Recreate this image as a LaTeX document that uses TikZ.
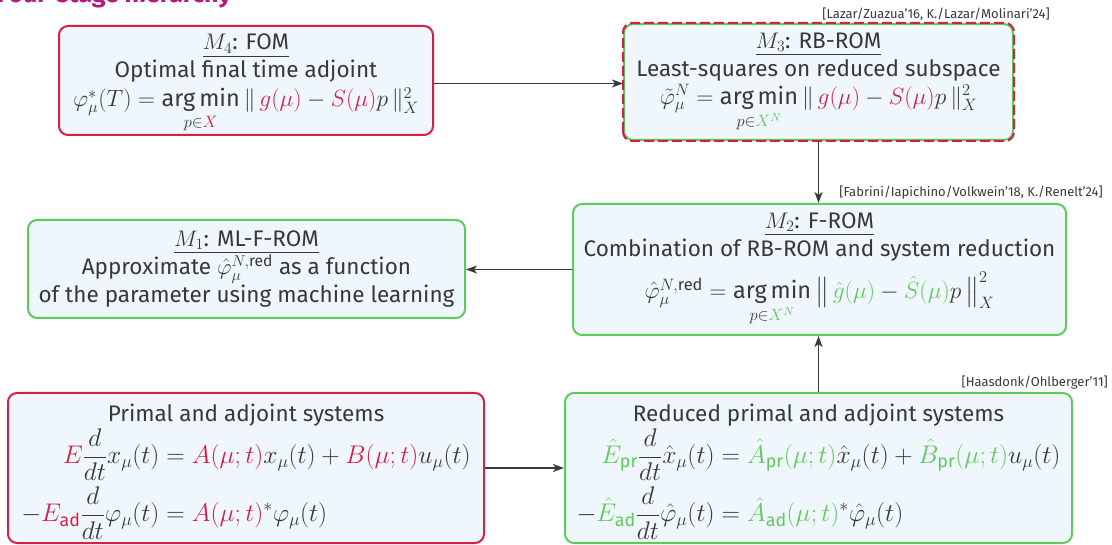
\RequirePackage{fix-cm}
\documentclass[tikz,border=0pt]{standalone}
\usepackage{amsmath}
\usepackage{fontspec}
\setmainfont{Fira Sans}
\usetikzlibrary{arrows.meta}
\definecolor{myred}{HTML}{D42045}
\definecolor{mygreen}{HTML}{5FC95C}
\definecolor{boxfill}{HTML}{EFF7FC}
\definecolor{txt}{HTML}{383838}
\definecolor{arr}{HTML}{3A3A3A}
\definecolor{ttl}{HTML}{B8167F}
\newcommand{\rc}[1]{\textcolor{myred}{#1}}
\newcommand{\gc}[1]{\textcolor{mygreen}{#1}}
\newcommand{\argmin}{\mathop{\text{arg\,min}}\limits}
\newcommand{\mline}[1]{{\fontsize{23.5}{28}\selectfont$#1$}}
\newcommand{\eline}[1]{{\fontsize{25.5}{30}\selectfont$#1$}}
\begin{document}
\begin{tikzpicture}[x=1pt,y=-1pt,
  box/.style={draw, line width=2pt, rounded corners=9pt, fill=boxfill, inner sep=0pt, align=center, text=txt, font=\fontsize{22.5}{28}\selectfont},
  redbox/.style={box, draw=myred},
  greenbox/.style={box, draw=mygreen},
  cite/.style={font=\fontsize{13}{15}\selectfont, text=txt, inner sep=0pt, anchor=east},
  conn/.style={draw=arr, line width=1.8pt, -{Stealth[length=11pt,width=8pt,inset=3pt]}}]
\useasboundingbox (0,0) rectangle (1112,545);
\clip (0,0) rectangle (1112,545);

\node[anchor=base west, text=ttl, font=\fontsize{25}{28}\selectfont\bfseries, inner sep=0pt] (title) at (-3,3) {Four-stage hierarchy};

\node[redbox, minimum width=374pt, minimum height=109pt] (M4) at (246,80.5)
 {\rule{0pt}{22pt}\underline{$M_4$: FOM}\\ Optimal final time adjoint\\[1pt]
  \mline{\varphi^*_\mu(T) = \argmin_{p\in\rc{X}} \|\, \rc{g(\mu)} - \rc{S(\mu)}p \,\|_X^2}};

\node[greenbox, minimum width=389pt, minimum height=116pt] (M3) at (818.5,82)
 {\underline{$M_3$: RB-ROM}\\ Least-squares on reduced subspace\\
  \mline{\tilde\varphi^N_\mu = \argmin_{p\in\gc{X^N}} \|\, \rc{g(\mu)} - \rc{S(\mu)}p \,\|_X^2}};
\draw[myred, line width=2pt, dash pattern=on 10pt off 4pt, rounded corners=9pt] (M3.south west) rectangle (M3.north east);

\node[greenbox, minimum width=493pt, minimum height=131pt] (M2) at (819.5,269.5)
 {\underline{$M_2$: F-ROM}\\ Combination of RB-ROM and system reduction\\[10pt]
  \mline{\hat\varphi^{N,\text{red}}_\mu = \argmin_{p\in\gc{X^N}} \left\|\, \gc{\hat g(\mu)} - \gc{\hat S(\mu)}p \,\right\|_X^2}};

\node[greenbox, minimum width=437pt, minimum height=98pt] (M1) at (246.5,269)
 {\underline{$M_1$: ML-F-ROM}\\ Approximate $\hat\varphi_\mu^{N,\text{red}}$ as a function\\ of the parameter using machine learning};

\node[redbox, minimum width=476pt, minimum height=150pt] (BL) at (246,468)
 {\rule{0pt}{25pt}Primal and adjoint systems\\[1pt]
  \eline{\begin{aligned} \rc{E}\frac{d}{dt}x_\mu(t) &= \rc{A(\mu;t)}x_\mu(t)+\rc{B(\mu;t)}u_\mu(t)\\[2pt]
   -\rc{E_{\text{ad}}}\frac{d}{dt}\varphi_\mu(t) &= \rc{A(\mu;t)}^*\varphi_\mu(t)\end{aligned}}};

\node[greenbox, minimum width=507pt, minimum height=150pt] (BR) at (818.5,468)
 {\rule{0pt}{25pt}Reduced primal and adjoint systems\\[1pt]
  \eline{\begin{aligned} \gc{\hat E_{\text{pr}}}\frac{d}{dt}\hat x_\mu(t) &= \gc{\hat A_{\text{pr}}(\mu;t)}\hat x_\mu(t)+\gc{\hat B_{\text{pr}}(\mu;t)}u_\mu(t)\\[2pt]
   -\gc{\hat E_{\text{ad}}}\frac{d}{dt}\hat\varphi_\mu(t) &= \gc{\hat A_{\text{ad}}(\mu;t)}^*\hat\varphi_\mu(t)\end{aligned}}};

\node[cite] (c3) at (1050,14) {[Lazar/Zuazua'16, K./Lazar/Molinari'24]};
\node[cite] (c2) at (1103,193) {[Fabrini/Iapichino/Volkwein'18, K./Renelt'24]};
\node[cite] (c0) at (1108,383) {[Haasdonk/Ohlberger'11]};

\draw[conn] ([yshift=-3pt]M4.east) -- ([yshift=-3pt]M4.east -| M3.west);
\draw[conn] (M3.south) -- (M3.south |- M2.north);
\draw[conn] (M2.west) -- (M2.west -| M1.east);
\draw[conn] (BL.east) -- (BL.east -| BR.west);
\draw[conn] (BR.north) -- (BR.north |- M2.south);
\end{tikzpicture}
\end{document}
